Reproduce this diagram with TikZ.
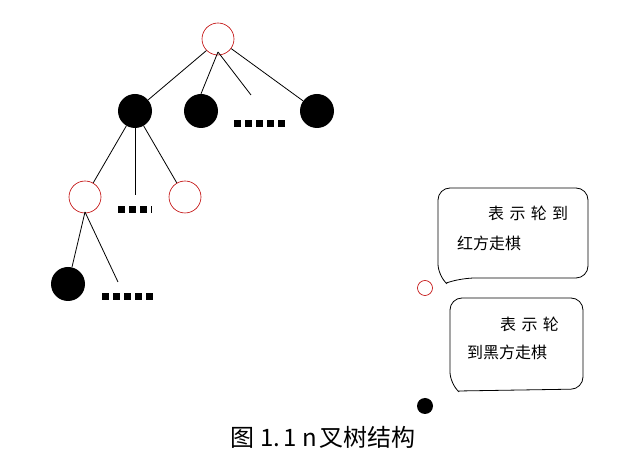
\documentclass[tikz,border=0pt]{standalone}
\usepackage{fontspec}
\newfontfamily\cjk{Noto Sans CJK SC}
\begin{document}
\begin{tikzpicture}[x=1pt,y=-1pt,
  rnode/.style={circle,draw=red!75!black,line width=0.6pt,fill=white,minimum size=32pt,inner sep=0pt},
  bnode/.style={circle,fill=black,minimum size=34pt,inner sep=0pt},
  edge/.style={line width=0.8pt},
  dots/.style={dash pattern=on 7pt off 4pt,line width=7pt},
  bubble/.style={line width=0.8pt,rounded corners=12pt},
  btext/.style={font=\cjk\fontsize{16}{19}\selectfont,inner sep=0pt,anchor=west}]
\useasboundingbox (0,0) rectangle (625,454);
% level 0
\node[rnode] (r) at (218,39) {};
% level 1
\node[bnode] (b1) at (135,111) {};
\node[bnode] (b2) at (201,111) {};
\node[bnode] (b3) at (317,111) {};
\coordinate (e1) at (251,95);
\coordinate (d1s) at (234,124);
\coordinate (d1e) at (285,124);
\draw[edge] (r.south west) -- (b1);
\draw[edge] (218,52) -- (b2.north);
\draw[edge] (218,52) -- (e1);
\draw[edge] (r) -- (b3);
\draw[dots] (d1s) -- (d1e);
% level 2
\node[rnode] (r1) at (85,197) {};
\node[rnode] (r2) at (185,197) {};
\coordinate (m2) at (135,195);
\coordinate (d2s) at (118,210);
\coordinate (d2e) at (152,210);
\draw[edge] (b1) -- (r1);
\draw[edge] (b1.center) -- (m2);
\draw[edge] (b1) -- (r2);
\draw[dots] (d2s) -- (d2e);
% level 3
\node[bnode] (b4) at (68,284) {};
\coordinate (e3) at (118,282);
\coordinate (d3s) at (102,297);
\coordinate (d3e) at (153,297);
\draw[edge] (85,212) -- (b4);
\draw[edge] (85,212) -- (e3);
\draw[dots] (d3s) -- (d3e);
% legend
\node[circle,draw=red!75!black,line width=0.6pt,minimum size=15pt,inner sep=0pt] (lr) at (425,288) {};
\node[circle,fill=black,minimum size=16pt,inner sep=0pt] (lb) at (425,406) {};
% bubble 1
\draw[bubble] (446,283) -- (463,278) -- (588,278) -- (588,188) -- (438,188) -- (438,276) [sharp corners] -- (446,283);
\node[btext] (t1) at (488,213) {表\,\,示\,\,轮\,\,到};
\node[btext] (t2) at (457,243) {红方走棋};
% bubble 2
\draw[bubble] (458,391) -- (583,389) -- (583,298) -- (450,298) -- (450,384) -- (458,391);
\node[btext] (t3) at (500,324) {表\,\,示\,\,轮};
\node[btext] (t4) at (467,352) {到黑方走棋};
% caption
\node[font=\cjk\fontsize{24}{27}\selectfont,inner sep=0pt] (cap) at (323,437) {图\hspace{6pt}1.\hspace{3pt}1\hspace{6pt}n\hspace{3pt}叉树结构};
\end{tikzpicture}
\end{document}
